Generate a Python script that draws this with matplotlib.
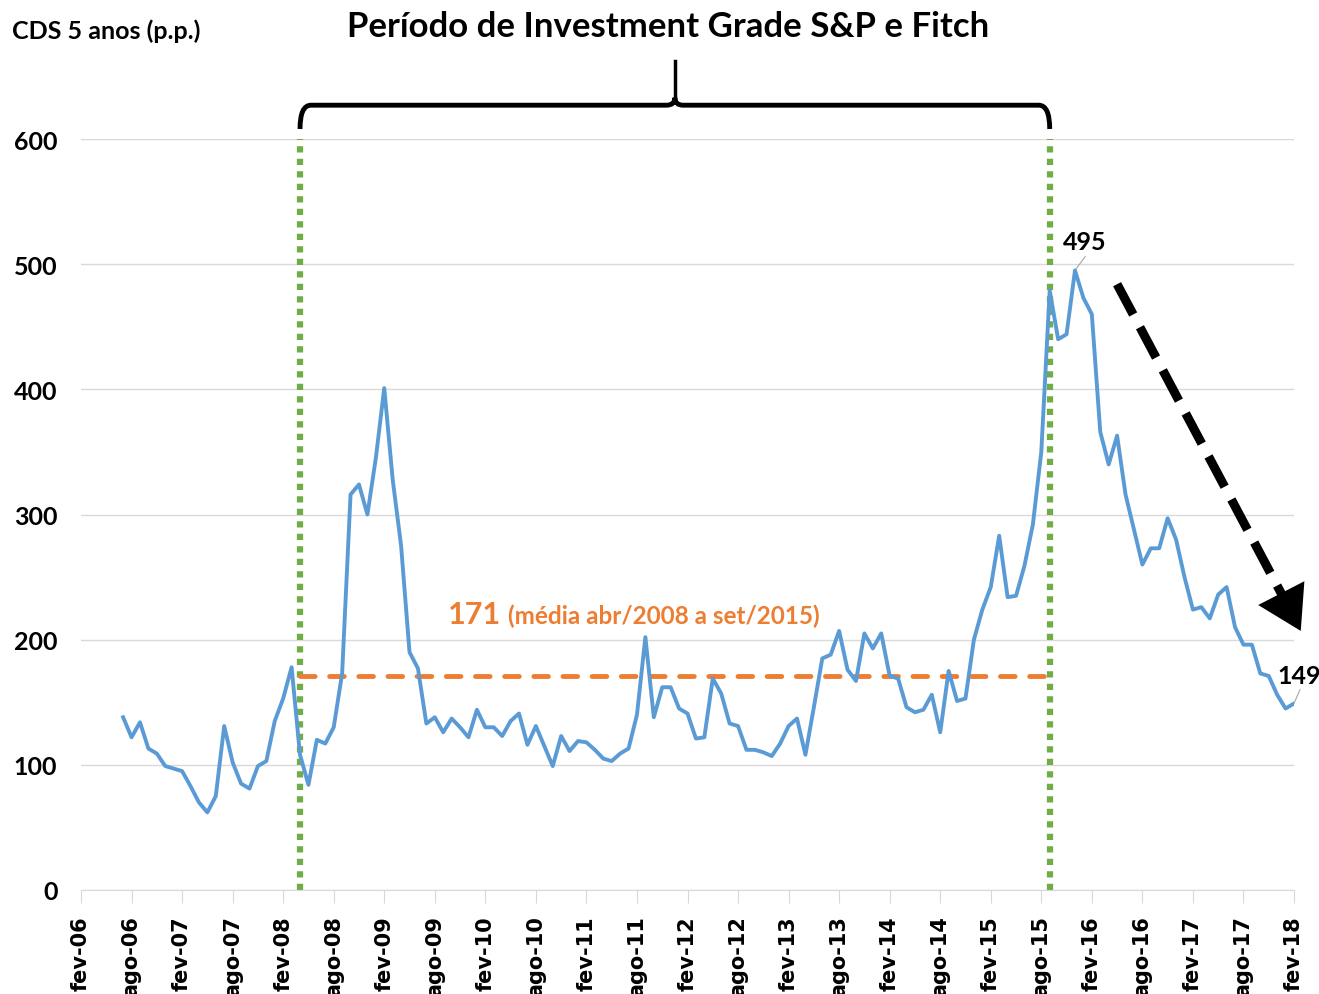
import matplotlib
matplotlib.use('Agg')
import matplotlib.pyplot as plt
from matplotlib.path import Path
from matplotlib.patches import PathPatch

# CDS 5 anos, mensal, de jul-06 (mes 5 a partir de fev-06) ate fev-18
primeiro_mes = 5
cds = [138, 122, 134, 113, 109, 99, 97, 95, 83, 70, 62, 75, 131, 102, 85, 81,
       99, 103, 135, 153, 178, 108, 84, 120, 117, 130, 173, 316, 324, 300, 345,
       401, 328, 275, 190, 177, 133, 138, 126, 137, 130, 122, 144, 130, 130,
       123, 135, 141, 116, 131, 115, 99, 123, 111, 119, 118, 112, 105, 103,
       109, 113, 140, 202, 138, 162, 162, 145, 141, 121, 122, 169, 157, 133,
       131, 112, 112, 110, 107, 117, 131, 137, 108, 146, 185, 188, 207, 176,
       167, 205, 193, 205, 171, 169, 146, 142, 144, 156, 126, 175, 151, 153,
       200, 224, 242, 283, 234, 235, 259, 292, 350, 479, 440, 444, 495, 473,
       460, 366, 340, 363, 316, 288, 260, 273, 273, 297, 280, 250, 224, 226,
       217, 236, 242, 210, 196, 196, 173, 171, 156, 145, 149]

tick_labels = []
for ano in range(6, 19):
    tick_labels.append('fev-%02d' % ano)
    if ano < 18:
        tick_labels.append('ago-%02d' % ano)

# periodo de investment grade: abr/2008 (mes 26) a set/2015 (mes 115)
ig_inicio = 26
ig_fim = 115
media_ig = 171
pico = 495
ultimo = 149

meses = list(range(primeiro_mes, primeiro_mes + len(cds)))

fonte = ['Lato', 'DejaVu Sans']
laranja = '#ED7D31'
verde = '#70AD47'
azul = '#5B9BD5'

fig = plt.figure(figsize=(13.19, 9.95), dpi=100)
ax = fig.add_axes([81 / 1319, 104 / 995, 1213 / 1319, 751 / 995])

ax.set_xlim(0, 144)
ax.set_ylim(0, 600)
ax.set_yticks(range(0, 601, 100))
ax.grid(axis='y', color='#D9D9D9', lw=1)
ax.set_axisbelow(True)
for s in ['top', 'right', 'left']:
    ax.spines[s].set_visible(False)
ax.spines['bottom'].set_color('#D9D9D9')
ax.tick_params(axis='y', length=0, pad=17)
for lab in ax.get_yticklabels():
    lab.set_family(fonte)
    lab.set_fontweight('bold')
    lab.set_fontsize(18)

ax.set_xticks(range(0, 145, 6))
ax.set_xticklabels(tick_labels, rotation=90, fontweight='bold', fontsize=15)
ax.tick_params(axis='x', length=9, color='#D9D9D9', pad=9)

# linhas verticais do periodo IG
ax.plot([ig_inicio, ig_inicio], [0, 600], color=verde, lw=4.5, ls=(0, (1, 1)), zorder=2)
ax.plot([ig_fim, ig_fim], [0, 600], color=verde, lw=4.5, ls=(0, (1, 1)), zorder=2)

# media
ax.plot([ig_inicio, ig_fim - 0.5], [media_ig, media_ig], color=laranja, lw=3.5,
        ls=(0, (3, 3)), dash_capstyle='round', zorder=3)

ax.plot(meses, cds, color=azul, lw=2.8, zorder=4)

t1 = ax.text(43.6, 213, str(media_ig), color=laranja, fontsize=22, fontweight='bold',
             family=fonte, va='baseline')
fig.canvas.draw()
bb = t1.get_window_extent()
x_fim = ax.transData.inverted().transform((bb.x1 + 7, bb.y0))[0]
ax.text(x_fim, 213, '(média abr/2008 a set/2015)', color=laranja, fontsize=17.5,
        fontweight='bold', family=fonte, va='baseline')

# rotulos do pico e do ultimo valor
i_pico = cds.index(pico)
ax.plot([meses[i_pico], meses[i_pico] + 1.2], [pico, pico + 11], color='#A6A6A6', lw=0.8)
ax.text(meses[i_pico] + 1.2, pico + 14, str(pico), fontsize=18, fontweight='bold',
        family=fonte, ha='center', va='bottom')
ax.plot([meses[-1], meses[-1] + 0.7], [ultimo, ultimo + 11], color='#A6A6A6', lw=0.8,
        clip_on=False)
ax.text(meses[-1] + 0.6, ultimo + 13, str(ultimo), fontsize=18, fontweight='bold',
        family=fonte, ha='center', va='bottom')

# seta tracejada de tendencia
ax.plot([123, 142.8], [484, 233], color='black', lw=6.5, ls=(0, (3.8, 1.6)),
        clip_on=False, zorder=5)
ax.annotate('', xy=(144.8, 207), xytext=(142.2, 241), annotation_clip=False,
            arrowprops=dict(arrowstyle='-|>,head_length=0.9,head_width=0.55',
                            mutation_scale=34, color='black', lw=0, shrinkA=0, shrinkB=0))

# chave do periodo de investment grade
meio = (ig_inicio + ig_fim) / 2
topo = 627
verts = [(ig_inicio, 608), (ig_inicio, topo), (ig_inicio + 1.3, topo),
         (meio - 1.0, topo), (meio, topo), (meio, topo + 6),
         (meio, topo + 6), (meio, topo), (meio + 1.0, topo),
         (ig_fim - 1.3, topo), (ig_fim, topo), (ig_fim, 608)]
codes = [Path.MOVETO, Path.CURVE3, Path.CURVE3, Path.LINETO, Path.CURVE3, Path.CURVE3,
         Path.MOVETO, Path.CURVE3, Path.CURVE3, Path.LINETO, Path.CURVE3, Path.CURVE3]
ax.add_patch(PathPatch(Path(verts, codes), fill=False, lw=3.5, edgecolor='black',
                       clip_on=False, capstyle='butt'))
ax.plot([meio, meio], [topo + 4, 662], color='black', lw=2.5, clip_on=False)

fig.text(668 / 1319, 1 - 27 / 995, 'Período de Investment Grade S&P e Fitch',
         fontsize=25, fontweight='bold', family=fonte, ha='center', va='center')
fig.text(12 / 1319, 1 - 31 / 995, 'CDS 5 anos (p.p.)', fontsize=18, fontweight='bold',
         family=fonte, ha='left', va='center')

fig.savefig('out.png', dpi=100)
